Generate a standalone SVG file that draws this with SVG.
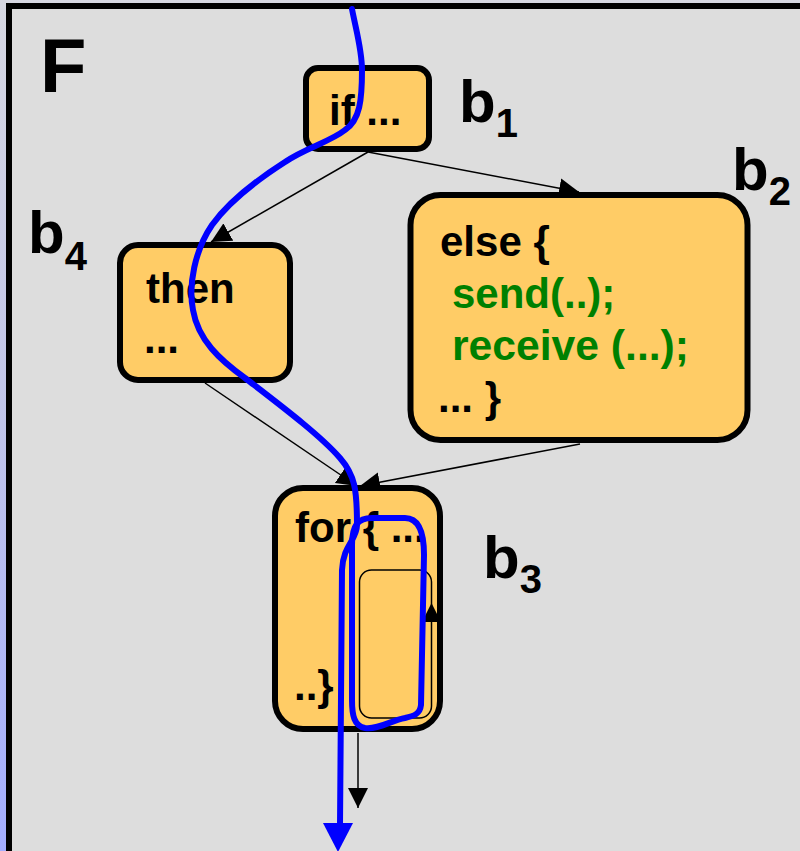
<svg xmlns="http://www.w3.org/2000/svg" width="800" height="851" viewBox="0 0 800 851">
  <defs>
    <linearGradient id="bg" x1="0" y1="0" x2="0" y2="1">
      <stop offset="0" stop-color="#d6d7e1"/>
      <stop offset="0.5" stop-color="#c0c4ea"/>
      <stop offset="1" stop-color="#a3adff"/>
    </linearGradient>
    <marker id="arrow" viewBox="0 0 20 20" markerWidth="20" markerHeight="20" refX="20" refY="10" orient="auto" markerUnits="userSpaceOnUse">
      <path d="M0,0 L20,10 L0,20 z" fill="#000"/>
    </marker>
    <style>
      .block { fill: #ffcc66; stroke: #000; stroke-width: 6; }
      .code { font-family: "Liberation Sans", Arial, sans-serif; font-weight: bold; font-size: 42px; fill: #000; }
      .call { fill: #008000; }
      .label { font-family: "Liberation Sans", Arial, sans-serif; font-weight: bold; font-size: 60px; fill: #000; }
      .sub { font-size: 40px; }
      .edge { fill: none; stroke: #000; stroke-width: 1.5; marker-end: url(#arrow); }
      .path { fill: none; stroke: #0000ff; stroke-width: 6; stroke-linecap: round; stroke-linejoin: round; }
    </style>
  </defs>

  <!-- backdrop and function frame -->
  <rect x="0" y="0" width="800" height="851" fill="url(#bg)"/>
  <rect x="9" y="6" width="820" height="880" fill="#dddddd" stroke="#000" stroke-width="6"/>

  <text class="label" x="40" y="92" style="font-size:76px">F</text>

  <!-- control-flow edges -->
  <g id="edges">
    <path class="edge" d="M368,152 L211,242"/>
    <path class="edge" d="M368,152 L579,192"/>
    <path class="edge" d="M205,383 L357,486"/>
    <path class="edge" d="M580,444 L360,486"/>
    <path class="edge" d="M358,733 L358,808"/>
  </g>

  <!-- b1: condition -->
  <g id="b1">
    <rect class="block" x="306" y="68" width="123" height="81" rx="12"/>
    <text class="code" x="329" y="125">if ...</text>
    <text class="label" x="459" y="122">b<tspan class="sub" dy="15">1</tspan></text>
  </g>

  <!-- b4: then branch -->
  <g id="b4">
    <rect class="block" x="120" y="245" width="170" height="135" rx="18"/>
    <text class="code" x="146" y="303">then</text>
    <text class="code" x="144" y="353">...</text>
    <text class="label" x="28" y="253">b<tspan class="sub" dy="17">4</tspan></text>
  </g>

  <!-- b2: else branch -->
  <g id="b2">
    <rect class="block" x="410.5" y="195" width="337" height="245" rx="30"/>
    <text class="code" x="440" y="256">else {</text>
    <text class="code call" x="452" y="308">send(..);</text>
    <text class="code call" x="452" y="360" textLength="237" lengthAdjust="spacingAndGlyphs">receive (...);</text>
    <text class="code" x="438" y="412">... }</text>
    <text class="label" x="732" y="190">b<tspan class="sub" dy="15">2</tspan></text>
  </g>

  <!-- b3: loop -->
  <g id="b3">
    <rect class="block" x="275" y="488" width="165" height="241" rx="28"/>
    <text class="code" x="295" y="542">for { ...</text>
    <text class="code" x="294" y="700">..}</text>
    <rect x="359.5" y="570" width="72" height="148" rx="12" fill="#ffcc66" stroke="#000" stroke-width="1.5"/>
    <path d="M422,622 L441,622 L431.5,603 z" fill="#000"/>
    <text class="label" x="483" y="578">b<tspan class="sub" dy="15">3</tspan></text>
  </g>

  <!-- execution path: entry, loop iteration, exit -->
  <g id="trace">
    <path class="path" d="M352,9 C356,30 362,50 362,70 C362,100 360,120 345,130 C330,142 305,148 285,162 C260,178 230,200 212,225 C195,250 188,285 193,310 C198,340 220,360 245,378 C280,405 320,435 340,458 C355,475 357,490 357,525 C357,540 343,545 342,570 L340,826"/>
    <path class="path" d="M352,545 C352,525 358,518 372,518 L405,518 C420,518 424,535 424,555 L421,705 C420,714 414,716 405,718 C392,720 378,730 365,728 C354,726 352,715 352,700 Z"/>
    <path d="M323,823 L353,823 L338,852 z" fill="#0000ff"/>
  </g>
</svg>
